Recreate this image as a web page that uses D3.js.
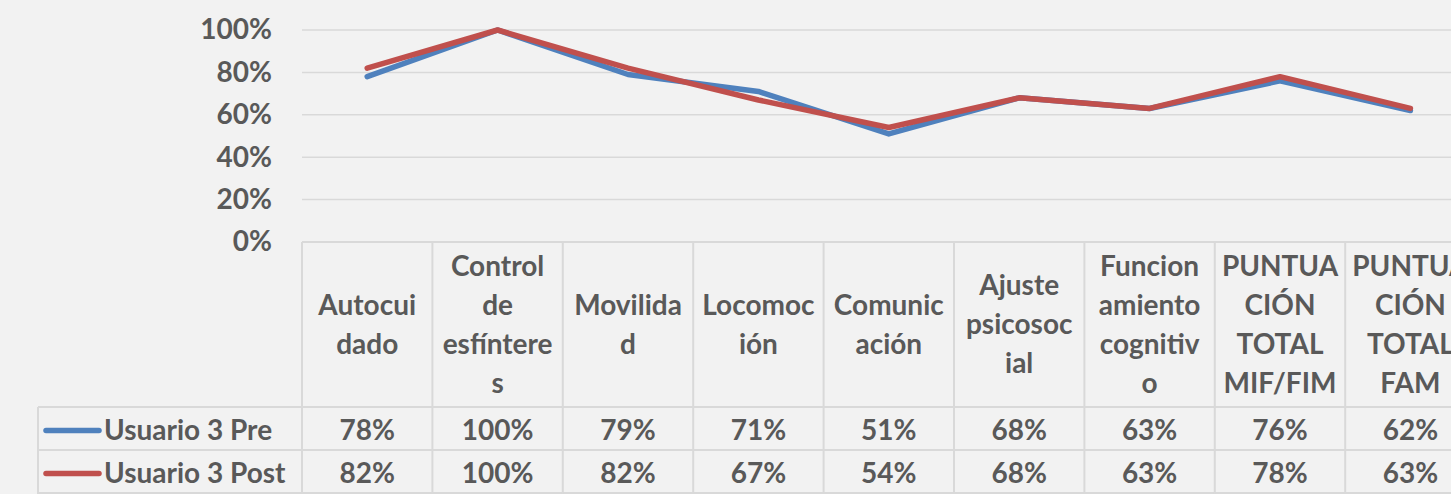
<!DOCTYPE html>
<html>
<head>
<meta charset="utf-8">
<script src="https://cdn.jsdelivr.net/npm/d3@7"></script>
<style>
  html, body { margin: 0; padding: 0; background: #f2f2f2; overflow: hidden; }
  svg { display: block; }
  text { font-family: Lato, "Open Sans", sans-serif; font-weight: 700; fill: #595959; }
</style>
</head>
<body>
<svg id="chart" width="1451" height="494"></svg>
<script>
const categories = ["Autocuidado", "Control de esfínteres", "Movilidad", "Locomoción", "Comunicación",
  "Ajuste psicosocial", "Funcionamiento cognitivo", "PUNTUACIÓN TOTAL MIF/FIM", "PUNTUACIÓN TOTAL FAM"];
// header lines as wrapped inside the table cells
const headerLines = [
  ["Autocui", "dado"],
  ["Control", "de", "esfíntere", "s"],
  ["Movilida", "d"],
  ["Locomoc", "ión"],
  ["Comunic", "ación"],
  ["Ajuste", "psicosoc", "ial"],
  ["Funcion", "amiento", "cognitiv", "o"],
  ["PUNTUA", "CIÓN", "TOTAL", "MIF/FIM"],
  ["PUNTUA", "CIÓN", "TOTAL", "FAM"]
];
const preValues = [0.78, 1.00, 0.79, 0.71, 0.51, 0.68, 0.63, 0.76, 0.62];
const postValues = [0.82, 1.00, 0.82, 0.67, 0.54, 0.68, 0.63, 0.78, 0.63];
const yTicks = [0, 0.2, 0.4, 0.6, 0.8, 1.0];

const series = [
  { name: "Usuario 3 Pre", values: preValues, color: "#4f81bd" },
  { name: "Usuario 3 Post", values: postValues, color: "#c0504d" }
];

const FONT = 28;
const LINE_H = 39;
const GRID = "#d9d9d9";

const svg = d3.select("#chart");

const plotLeft = 302, plotTop = 30, plotBottom = 242;
const colW = 130.4;
const headerBottom = 407, rowH = 43;
const legendLeft = 38;

const x = d3.scaleBand()
  .domain(d3.range(categories.length))
  .range([plotLeft, plotLeft + colW * categories.length])
  .padding(0);
const cx = (i) => x(i) + x.bandwidth() / 2;

const y = d3.scaleLinear().domain([0, 1]).range([plotBottom, plotTop]);

// gridlines
svg.append("g").selectAll("line")
  .data(yTicks.filter(d => d > 0))
  .join("line")
  .attr("x1", plotLeft).attr("x2", x.range()[1])
  .attr("y1", d => y(d)).attr("y2", d => y(d))
  .attr("stroke", GRID).attr("stroke-width", 1.5);

// y axis labels
const yAxis = d3.axisLeft(y).tickValues(yTicks).tickFormat(d3.format(".0%")).tickSize(0).tickPadding(0);
const yg = svg.append("g").attr("transform", `translate(272,0)`).call(yAxis);
yg.select(".domain").remove();
yg.selectAll("text")
  .attr("font-size", FONT)
  .style("font-family", "Lato, sans-serif")
  .style("font-weight", 700)
  .attr("fill", "#595959");

// data table grid
const table = svg.append("g").attr("stroke", GRID).attr("stroke-width", 2).attr("fill", "none");
table.append("line").attr("x1", plotLeft).attr("x2", x.range()[1]).attr("y1", plotBottom).attr("y2", plotBottom);
[0, 1, 2].forEach(r => {
  const yy = headerBottom + r * rowH;
  table.append("line").attr("x1", legendLeft).attr("x2", x.range()[1]).attr("y1", yy).attr("y2", yy);
});
d3.range(categories.length + 1).forEach(i => {
  const xx = plotLeft + i * colW;
  table.append("line").attr("x1", xx).attr("x2", xx).attr("y1", plotBottom).attr("y2", headerBottom + 2 * rowH + 10);
});
table.append("line").attr("x1", legendLeft).attr("x2", legendLeft)
  .attr("y1", headerBottom).attr("y2", headerBottom + 2 * rowH + 10);

// header labels
const headerMid = (plotBottom + headerBottom) / 2;
svg.append("g").selectAll("text")
  .data(headerLines)
  .join("text")
  .attr("text-anchor", "middle")
  .attr("font-size", FONT)
  .attr("x", (d, i) => cx(i))
  .each(function (lines) {
    const t = d3.select(this);
    const start = headerMid - (lines.length - 1) * LINE_H / 2;
    lines.forEach((ln, k) => {
      t.append("tspan").attr("x", t.attr("x")).attr("y", start + k * LINE_H).attr("dy", "0.35em").text(ln);
    });
  });

// lines
const line = d3.line().x((d, i) => cx(i)).y(d => y(d));
svg.append("g").selectAll("path")
  .data(series)
  .join("path")
  .attr("d", d => line(d.values))
  .attr("fill", "none")
  .attr("stroke", d => d.color)
  .attr("stroke-width", 5.5)
  .attr("stroke-linejoin", "round")
  .attr("stroke-linecap", "round");

// value rows with legend keys
const rows = svg.append("g").selectAll("g")
  .data(series)
  .join("g")
  .attr("transform", (d, r) => `translate(0,${headerBottom + r * rowH + rowH / 2 + 2})`);

rows.append("line")
  .attr("x1", 46).attr("x2", 99).attr("y1", 0).attr("y2", 0)
  .attr("stroke", d => d.color).attr("stroke-width", 5.5).attr("stroke-linecap", "round");

rows.append("text")
  .attr("x", 104).attr("y", 0).attr("dy", "0.35em")
  .attr("font-size", FONT)
  .text(d => d.name);

rows.selectAll("text.val")
  .data(d => d.values)
  .join("text")
  .attr("class", "val")
  .attr("text-anchor", "middle")
  .attr("x", (d, i) => cx(i)).attr("y", 0).attr("dy", "0.35em")
  .attr("font-size", FONT)
  .text(d => d3.format(".0%")(d));
</script>
</body>
</html>
